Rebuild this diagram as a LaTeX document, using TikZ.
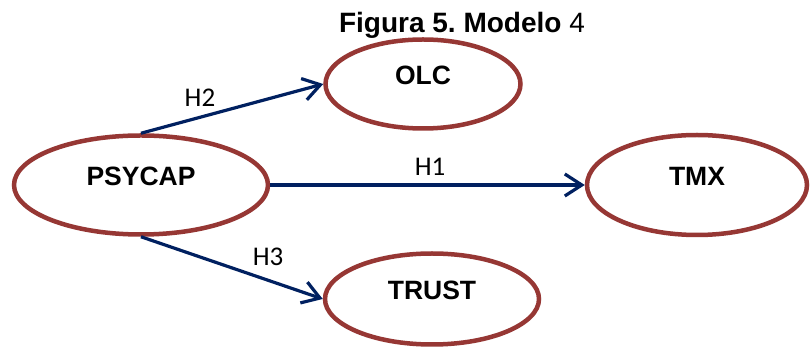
\documentclass[tikz,border=0pt]{standalone}
\usepackage{fontspec}
\setmainfont{Liberation Sans}
\newfontfamily\labelfont{Carlito}
\usetikzlibrary{shapes.geometric, arrows.meta}

\definecolor{ovalred}{RGB}{150,55,52}
\definecolor{pathblue}{RGB}{0,32,96}

\tikzset{
	construct/.style={ellipse, draw=ovalred, line width=4.5pt, fill=white, font=\fontsize{26.5}{30}\selectfont\bfseries, inner sep=0pt, text depth=18pt},
	hyp/.style={draw=pathblue, line width=3.2pt, -{Straight Barb[length=17pt, width=22pt, line width=3.2pt]}},
	hlabel/.style={font=\labelfont\fontsize{27}{32}\selectfont, inner sep=0pt}
}

\begin{document}
\begin{tikzpicture}[x=1pt, y=1pt]
	\useasboundingbox (0,0) rectangle (811,350);
	\node[anchor=base, font=\fontsize{28}{32}\selectfont] (title) at (462,317) {\textbf{Figura 5.\ Modelo} 4};
	\node[construct, minimum width=254pt, minimum height=99pt] (psycap) at (141,165) {PSYCAP};
	\node[construct, minimum width=195pt, minimum height=89pt] (olc) at (423,266) {OLC};
	\node[construct, minimum width=220pt, minimum height=100pt] (tmx) at (697,165) {TMX};
	\node[construct, minimum width=214pt, minimum height=91pt] (trust) at (432,51) {TRUST};
	\draw[hyp] (psycap.east) -- (tmx.west); 
	\draw[hyp] (psycap.north) -- (olc.west); 
	\draw[hyp] (psycap.south) -- (trust.west); 
	\node[hlabel] (h1) at (430,183) {H1};
	\node[hlabel] (h2) at (200,252) {H2};
	\node[hlabel] (h3) at (268,93) {H3};
\end{tikzpicture}
\end{document}
